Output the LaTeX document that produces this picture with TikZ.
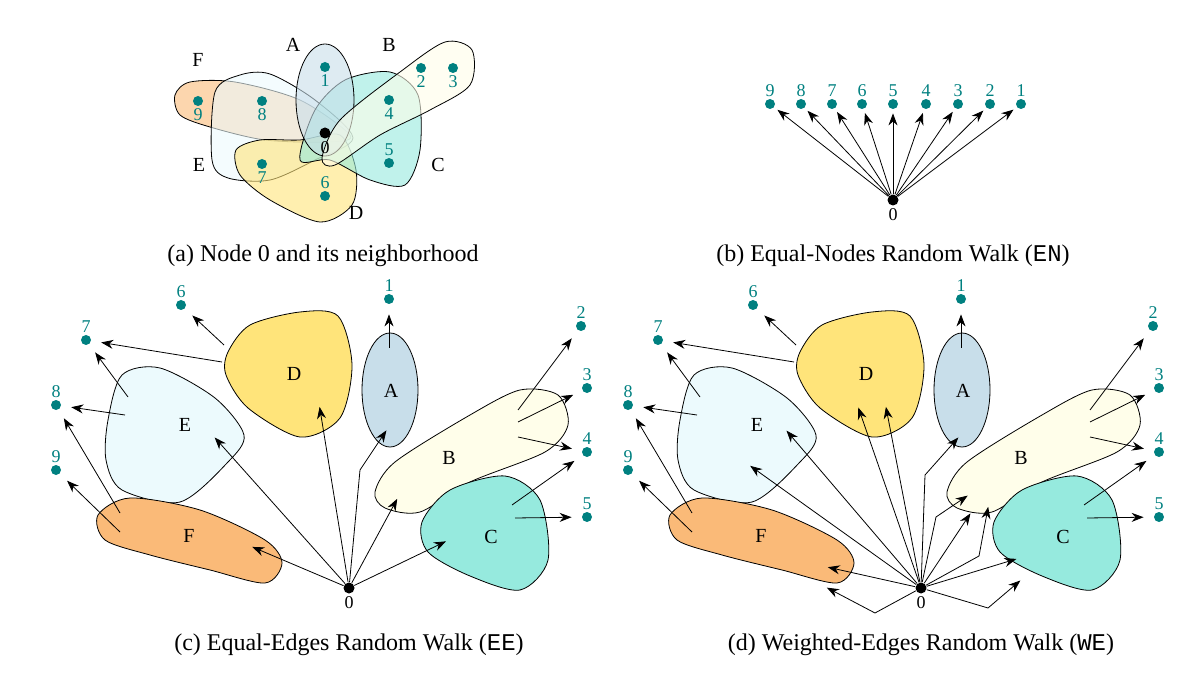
\documentclass[tikz,border=0pt]{standalone}
\usepackage{fontspec}
\setmainfont{Liberation Serif}
\setmonofont{Liberation Mono}
\usepackage{tikz}
\usetikzlibrary{arrows.meta}
\definecolor{dotteal}{RGB}{0,128,128}
\definecolor{fillA}{RGB}{200,222,234}
\definecolor{fillB}{RGB}{255,254,234}
\definecolor{fillC}{RGB}{150,234,222}
\definecolor{fillD}{RGB}{255,228,122}
\definecolor{fillE}{RGB}{236,250,253}
\definecolor{fillF}{RGB}{250,186,120}
\tikzset{
    dot/.style = {circle, fill=dotteal, inner sep=0pt, minimum size=5pt},
    zero/.style = {circle, fill=black, inner sep=0pt, minimum size=5.5pt},
    num/.style = {text=dotteal, font=\small, inner sep=1pt},
    blob/.style = {draw=black, line width=0.4pt},
    letter/.style = {font=\normalsize},
    arrow/.style = {line width=0.4pt, -{Stealth[length=6pt,width=4.5pt]}},
    caption/.style = {font=\large}
}
% blobs of the panels (c) and (d)
\newcommand{\walkblobs}{
    \draw[blob, fill=fillD] plot[smooth cycle] coordinates {(228,352) (250,325) (300,312) (338,316) (352,365) (340,418) (300,437) (248,408) (226,375)};
    \draw[blob, fill=fillA] (390,390) ellipse [x radius=28, y radius=57];
    \draw[blob, fill=fillE] plot[smooth cycle] coordinates {(108,420) (122,375) (160,368) (215,398) (244,435) (228,462) (180,502) (122,490) (106,460)};
    \draw[blob, fill=fillB] plot[smooth cycle] coordinates {(375,492) (395,462) (470,415) (520,390) (558,395) (568,425) (545,452) (470,482) (420,512) (385,508)};
    \draw[blob, fill=fillC] plot[smooth cycle] coordinates {(422,522) (450,490) (505,476) (540,500) (548,560) (520,590) (470,576) (428,552)};
    \draw[blob, fill=fillF] plot[smooth cycle] coordinates {(98,515) (130,498) (200,510) (265,540) (282,563) (265,583) (210,570) (150,555) (105,540)};
    \node[letter] at (294,374) {D};
    \node[letter] at (391,391) {A};
    \node[letter] at (185,425) {E};
    \node[letter] at (449,458) {B};
    \node[letter] at (491,537) {C};
    \node[letter] at (189,536) {F};
    \foreach \n/\x/\y/\p in {1/389/299/above, 2/581/326/above, 3/587/388/above, 4/587/452/above, 5/587/517/above,
                             6/181/305/above, 7/86/340/above, 8/56/405/above, 9/56/470/above}
        \node[dot, label={[num]\p:\n}] (t\n) at (\x,\y) {};
    \node[zero, label={[font=\small, inner sep=1pt]below:0}] (o) at (349,588) {};
    % arrows leaving the groups
    \draw[arrow] (224,345) -- (t6);
    \draw[arrow] (222,362) -- (t7);
    \draw[arrow] (128,397) -- (t7);
    \draw[arrow] (125,415) -- (t8);
    \draw[arrow] (120,513) -- (t8);
    \draw[arrow] (120,532) -- (t9);
    \draw[arrow] (389,348) -- (t1);
    \draw[arrow] (518,410) -- (t2);
    \draw[arrow] (518,422) -- (t3);
    \draw[arrow] (518,437) -- (t4);
    \draw[arrow] (512,505) -- (t4);
    \draw[arrow] (515,518) -- (t5);
}

\begin{document}
\begin{tikzpicture}[x=0.5pt, y=-0.5pt, shorten >=5pt]
\useasboundingbox (0,0) rectangle (1200,679);

% (a) the neighbourhood of node 0
\begin{scope}[fill opacity=0.6]
\draw[blob, fill=fillF] plot[smooth cycle] coordinates {(175,95) (190,82) (235,82) (300,100) (350,135) (330,142) (265,140) (210,127) (180,115)};
\draw[blob, fill=fillE] plot[smooth cycle] coordinates {(215,92) (240,75) (270,74) (315,100) (353,138) (315,160) (270,180) (228,178) (212,160)};
\draw[blob, fill=fillD] plot[smooth cycle] coordinates {(236,150) (260,140) (300,140) (340,135) (356,170) (352,205) (320,222) (270,200) (240,175)};
\draw[blob, fill=fillC] plot[smooth cycle] coordinates {(300,160) (315,110) (345,80) (390,72) (418,95) (420,150) (405,185) (370,180) (330,160)};
\draw[blob, fill=fillA] (325,100) ellipse [x radius=29, y radius=56];
\draw[blob, fill=fillB] plot[smooth cycle] coordinates {(322,158) (340,120) (400,72) (445,42) (472,50) (470,85) (430,110) (380,135) (335,165)};
\end{scope}
\foreach \n/\x/\y/\p in {1/325/67/below, 2/421/68/below, 3/453/68/below, 4/389/100/below, 5/389/163/above,
                         6/325/196/above, 7/262/164/below, 8/262/101/below, 9/198/101/below}
    \node[dot, label={[num]\p:\n}] (a\n) at (\x,\y) {};
\node[zero, label={[font=\small, inner sep=1pt]below:0}] (a0) at (325,133) {};
\node[letter] at (293,45) {A};
\node[letter] at (389,45) {B};
\node[letter] at (438,165) {C};
\node[letter] at (356,213) {D};
\node[letter] at (199,165) {E};
\node[letter] at (198,60) {F};
\node[caption] at (323,256) {(a) Node 0 and its neighborhood};

% (b) equal nodes
\node[zero, label={[font=\small, inner sep=1pt]below:0}] (b0) at (893,200) {};
\foreach \n/\x in {9/770, 8/801, 7/832, 6/862, 5/893, 4/926, 3/958, 2/990, 1/1021}{
    \node[dot, label={[num]above:\n}] (b\n) at (\x,104) {};
    \draw[arrow, shorten >=2pt] (b0) -- (b\n);
}
\node[caption] at (893,256) {(b) Equal-Nodes Random Walk (\texttt{EN})};

% (c) equal edges
\walkblobs
\draw[arrow] (o) -- (208,430);
\draw[arrow] (o) -- (318,397);
\draw[arrow] (o) -- (360,470) -- (392,422);
\draw[arrow] (o) -- (402,490);
\draw[arrow] (o) -- (455,537);
\draw[arrow] (o) -- (243,543);
\node[caption] at (349,645) {(c) Equal-Edges Random Walk (\texttt{EE})};

% (d) weighted edges
\begin{scope}[shift={(572,0)}]
\walkblobs
\draw[arrow] (o) -- (208,423);
\draw[arrow] (o) -- (170,460);
\draw[arrow] (o) -- (283,398);
\draw[arrow] (o) -- (312,397);
\draw[arrow] (o) -- (353,475) -- (393,430);
\draw[arrow] (o) -- (364,517) -- (404,490);
\draw[arrow] (o) -- (404,505);
\draw[arrow] (o) -- (407,556) -- (418,497);
\draw[arrow] (o) -- (454,556);
\draw[arrow] (o) -- (416,608) -- (456,574);
\draw[arrow] (o) -- (246,565);
\draw[arrow] (o) -- (303,613) -- (246,583);
\node[caption] at (349,645) {(d) Weighted-Edges Random Walk (\texttt{WE})};
\end{scope}
\end{tikzpicture}
\end{document}
